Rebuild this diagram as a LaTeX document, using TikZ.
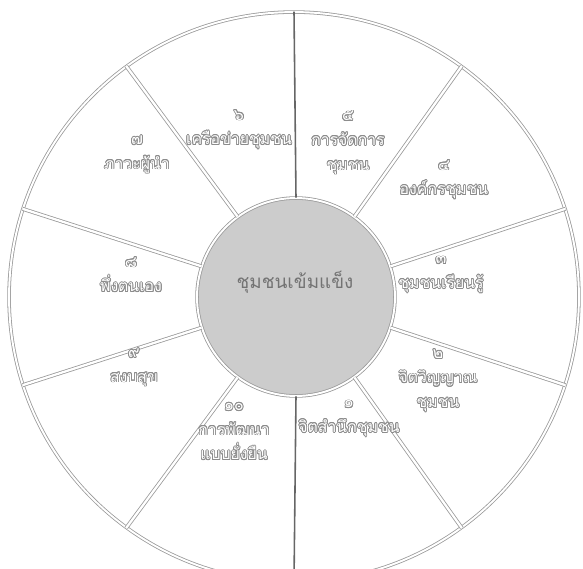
\documentclass[tikz,border=0pt]{standalone}
\usepackage{fontspec}
\usepackage{contour}
\usepackage{tikz}
\newfontfamily\thaifont[Script=Thai]{Loma}
\contourlength{0.45pt}
\newcommand{\olt}[1]{\contour{black!45}{#1}}

\begin{document}
\begin{tikzpicture}[x=0.02cm, y=-0.02cm,
    every node/.style={font=\thaifont},
    ring/.style={circle, draw=black!40, double=white, double distance=1.1pt, line width=0.45pt, inner sep=0pt},
    spoke/.style={draw=black!40, double=white, double distance=1.3pt, line width=0.45pt},
    axis/.style={draw=black!60, line width=0.9pt},
    sector/.style={align=center, text=white, font=\thaifont\fontsize{9}{14}\selectfont}]
  \useasboundingbox (0,0) rectangle (583,569);

  % wheel
  \node[ring, minimum size=11.4cm] (rim) at (294,297) {};
  \node[ring, fill=black!20, minimum size=3.96cm] (hub) at (296,297) {};
  \foreach \a in {18,54,126,162,198,234,306,342}
    \draw[spoke] (hub.\a) -- (rim.\a);
  \draw[axis] (rim.90) -- (hub.90);
  \draw[axis] (hub.270) -- (rim.270);
  \node[text=black!55, font=\thaifont\fontsize{10.7}{14}\selectfont] (title) at (295,282) {ชุมชนเข้มแข็ง};

  % sectors
  \node[sector] (s1) at (349,419) {\olt{๑}\\\olt{จิตสำนึกชุมชน}};
  \node[sector] (s2) at (438,381) {\olt{๒}\\\olt{จิตวิญญาณ}\\\olt{ชุมชน}};
  \node[sector] (s3) at (441,275) {\olt{๓}\\\olt{ชุมชนเรียนรู้}};
  \node[sector] (s4) at (444,180) {\olt{๔}\\\olt{องค์กรชุมชน}};
  \node[sector] (s5) at (348,143) {\olt{๕}\\\olt{การจัดการ}\\\olt{ชุมชน}};
  \node[sector] (s6) at (239,130) {\olt{๖}\\\olt{เครือข่ายชุมชน}};
  \node[sector] (s7) at (137,155) {\olt{๗}\\\olt{ภาวะผู้นำ}};
  \node[sector] (s8) at (131,275) {\olt{๘}\\\olt{พึ่งตนเอง}};
  \node[sector] (s9) at (134,368) {\olt{๙}\\\olt{สงบสุข}};
  \node[sector] (s10) at (234,432) {\olt{๑๐}\\\olt{การพัฒนา}\\\olt{แบบยั่งยืน}};
\end{tikzpicture}
\end{document}
